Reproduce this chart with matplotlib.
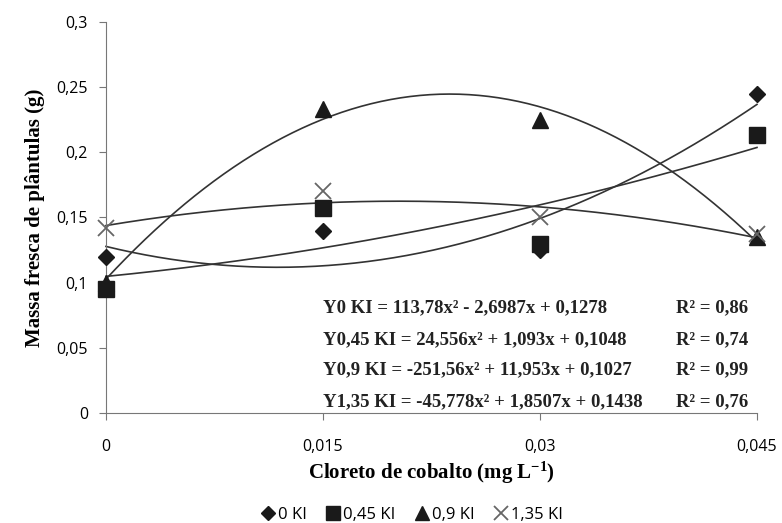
import numpy as np
import matplotlib.pyplot as plt
from matplotlib.lines import Line2D

x = [0, 0.015, 0.03, 0.045]
y_0 = [0.12, 0.14, 0.125, 0.245]
y_045 = [0.095, 0.157, 0.13, 0.213]
y_09 = [0.10, 0.233, 0.225, 0.135]
y_135 = [0.142, 0.17, 0.15, 0.137]

# coeficientes das equacoes (a, b, c)
c_0 = [113.78, -2.6987, 0.1278]
c_045 = [24.556, 1.093, 0.1048]
c_09 = [-251.56, 11.953, 0.1027]
c_135 = [-45.778, 1.8507, 0.1438]

eqs = ["Y0 KI = 113,78x² - 2,6987x + 0,1278",
       "Y0,45 KI = 24,556x² + 1,093x + 0,1048",
       "Y0,9 KI = -251,56x² + 11,953x + 0,1027",
       "Y1,35 KI = -45,778x² + 1,8507x + 0,1438"]
r2 = ["R² = 0,86", "R² = 0,74", "R² = 0,99", "R² = 0,76"]
labels = ["0 KI", "0,45 KI", "0,9 KI", "1,35 KI"]

plt.rcParams["mathtext.fontset"] = "custom"
plt.rcParams["mathtext.rm"] = "Liberation Serif:bold"
plt.rcParams["mathtext.it"] = "Liberation Serif:bold"
plt.rcParams["mathtext.bf"] = "Liberation Serif:bold"

sans = ["Open Sans", "DejaVu Sans"]
serif = ["Liberation Serif", "DejaVu Serif"]

fig = plt.figure(figsize=(7.82, 5.23), dpi=100)
ax = fig.add_axes([0.1355, 0.2103, 0.8325, 0.7477])

xs = np.linspace(0, 0.045, 200)
for c in [c_0, c_045, c_09, c_135]:
    ax.plot(xs, np.polyval(c, xs), color="#333333", lw=1.2, zorder=2)

ax.plot(x, y_09, "^", color="#1a1a1a", ms=11, zorder=3)
ax.plot(x, y_045, "s", color="#1a1a1a", ms=11, zorder=3)
ax.plot(x, y_0, "D", color="#1a1a1a", ms=8, zorder=4)
ax.plot(x, y_135, "x", color="#666666", ms=12, mew=1.3, zorder=4)

ax.set_xlim(0, 0.045)
ax.set_ylim(0, 0.3)
ax.set_xticks(x)
ax.set_xticklabels(["0", "0,015", "0,03", "0,045"], family=sans, fontsize=11.5)
yt = [0, 0.05, 0.1, 0.15, 0.2, 0.25, 0.3]
ax.set_yticks(yt)
ax.set_yticklabels(["0", "0,05", "0,1", "0,15", "0,2", "0,25", "0,3"], family=sans, fontsize=11.5)
ax.tick_params(direction="out", length=5, color="#777777", pad=8)
ax.tick_params(axis="x", pad=14)
for s in ["top", "right"]:
    ax.spines[s].set_visible(False)
for s in ["left", "bottom"]:
    ax.spines[s].set_color("#777777")
for ln in ax.lines:
    ln.set_clip_on(False)

ax.set_xlabel("Cloreto de cobalto (mg L$^{-1}$)", family=serif, fontweight="bold",
              fontsize=15, labelpad=3)
ax.set_ylabel("Massa fresca de plântulas (g)", family=serif, fontweight="bold",
              fontsize=15, labelpad=8)

ys = [0.077, 0.053, 0.030, 0.005]
for e, r, yy in zip(eqs, r2, ys):
    ax.text(0.0150, yy, e, family=serif, fontweight="bold", fontsize=13.5, color="#222222")
    ax.text(0.0394, yy, r, family=serif, fontweight="bold", fontsize=13.5, color="#222222")

handles = [Line2D([], [], marker="D", color="#1a1a1a", ls="", ms=7),
           Line2D([], [], marker="s", color="#1a1a1a", ls="", ms=10),
           Line2D([], [], marker="^", color="#1a1a1a", ls="", ms=10),
           Line2D([], [], marker="x", color="#666666", ls="", ms=10, mew=1.3)]
fig.legend(handles, labels, loc="lower center", bbox_to_anchor=(0.525, -0.028), ncol=4,
           frameon=False, handletextpad=0.0, columnspacing=1.0, handlelength=1.2,
           prop={"family": sans, "size": 12})

fig.savefig("out.png", dpi=100)
